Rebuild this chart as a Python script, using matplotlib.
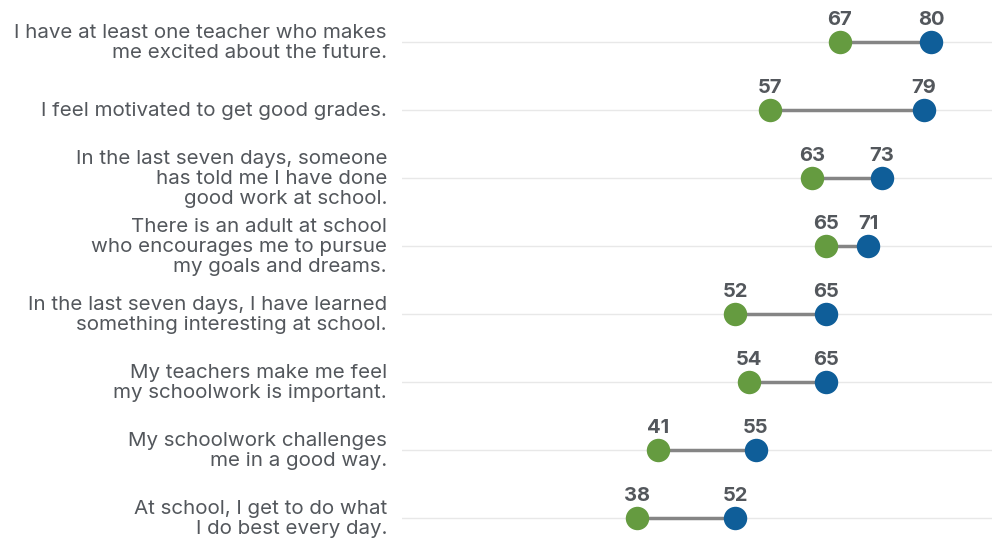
import matplotlib
matplotlib.use("Agg")
import matplotlib.pyplot as plt

labels = [
    "I have at least one teacher who makes\nme excited about the future.",
    "I feel motivated to get good grades.",
    "In the last seven days, someone\nhas told me I have done\ngood work at school.",
    "There is an adult at school\nwho encourages me to pursue\nmy goals and dreams.",
    "In the last seven days, I have learned\nsomething interesting at school.",
    "My teachers make me feel\nmy schoolwork is important.",
    "My schoolwork challenges\nme in a good way.",
    "At school, I get to do what\nI do best every day.",
]
green_vals = [67, 57, 63, 65, 52, 54, 41, 38]
blue_vals = [80, 79, 73, 71, 65, 65, 55, 52]

GREEN = "#659b40"
BLUE = "#0f5e99"
TEXT = "#53575c"
LINE = "#858585"
GRID = "#e8e8e8"

plt.rcParams['font.family'] = ['Inter', 'DejaVu Sans']

fig = plt.figure(figsize=(9.92, 5.42), dpi=100)
ax = fig.add_axes([402/992, 0, 590/992, 1])
ax.set_xlim(31/7, 621/7)
ax.set_ylim(7 + 24/68, -42/68)
ax.axis('off')

ys = list(range(len(labels)))
for y in ys:
    ax.axhline(y, color=GRID, lw=1, zorder=0)

for y, g, b in zip(ys, green_vals, blue_vals):
    ax.plot([g, b], [y, y], color=LINE, lw=2.5, zorder=1, solid_capstyle='butt')
ax.scatter(green_vals, ys, s=285, color=GREEN, zorder=3, linewidths=0)
ax.scatter(blue_vals, ys, s=285, color=BLUE, zorder=3, linewidths=0)

for y, g, b in zip(ys, green_vals, blue_vals):
    for v in (g, b):
        ax.annotate(str(v), (v, y), xytext=(0, 16), textcoords='offset points',
                    ha='center', va='center', fontsize=14.5, fontweight='bold', color=TEXT)

tr = ax.get_yaxis_transform()
for y, lab in zip(ys, labels):
    ax.text(-15/590, y + 0.015, lab, transform=tr, ha='right', va='center', fontsize=14.8,
            color=TEXT, linespacing=1.17, clip_on=False, multialignment='right')

fig.savefig("out.png", dpi=100)
